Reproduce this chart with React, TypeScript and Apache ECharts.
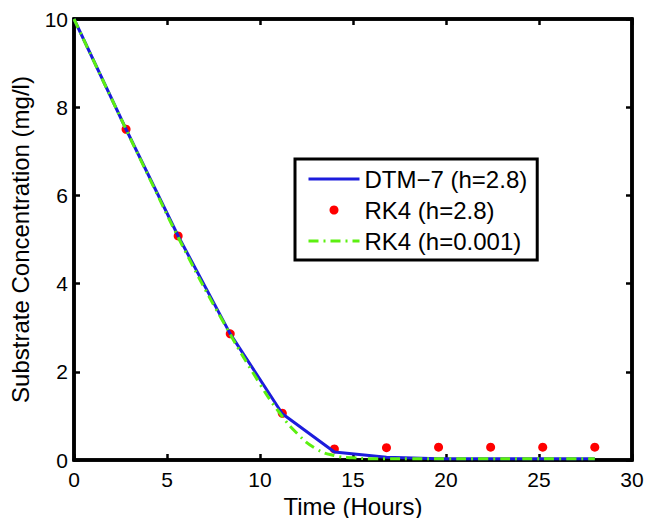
import React, { useEffect, useRef } from "react";
import * as echarts from "echarts";

const timeDTM = [0, 2.8, 5.6, 8.4, 11.2, 14, 16.8, 19.6, 22.4, 25.2, 28];
const dtm7 = [10, 7.5, 5.08, 2.86, 1.05, 0.18, 0.06, 0.03, 0.03, 0.03, 0.03];

const timeRK = [2.8, 5.6, 8.4, 11.2, 14, 16.8, 19.6, 22.4, 25.2, 28];
const rk4Coarse = [7.5, 5.08, 2.86, 1.06, 0.25, 0.28, 0.29, 0.29, 0.29, 0.29];

const timeFine = [0, 2, 4, 6, 8, 10, 11, 12, 13, 14, 15, 16, 17, 18, 20, 22, 24, 26, 28];
const rk4Fine = [10, 8.21, 6.44, 4.72, 3.15, 1.72, 1.1, 0.6, 0.26, 0.1, 0.05, 0.03, 0.03, 0.03, 0.03, 0.03, 0.03, 0.03, 0.03];

const xTicks = [0, 5, 10, 15, 20, 25, 30];
const yTicks = [0, 2, 4, 6, 8, 10];

const FONT = "Liberation Sans, Arial, Helvetica, sans-serif";
const BLUE = "#1c1cdc";
const RED = "#ff0000";
const GREEN = "#5cf010";

const mkLine = () => ({ show: true, onZero: false, lineStyle: { color: "#000", width: 3.5 } });
const mkTick = () => ({ show: true, inside: true, length: 6, lineStyle: { color: "#000", width: 2.5 } });

export default function App() {
  const ref = useRef<HTMLDivElement>(null);
  useEffect(() => {
    document.body.style.margin = "0";
    const chart = echarts.init(ref.current!, null, { renderer: "svg" });
    const names = ["DTM\u22127 (h=2.8)", "RK4 (h=2.8)", "RK4 (h=0.001)"];
    chart.setOption({
      animation: false,
      backgroundColor: "#fff",
      grid: {
        left: 74,
        top: 19,
        right: 15,
        bottom: 58,
        containLabel: false,
        outerBoundsMode: "none",
        show: true,
        borderColor: "#000",
        borderWidth: 3.5,
        backgroundColor: "transparent",
      },
      xAxis: [
        {
          type: "value",
          min: xTicks[0],
          max: xTicks[xTicks.length - 1],
          interval: 5,
          name: "Time (Hours)",
          nameLocation: "middle",
          nameGap: 32,
          nameTextStyle: { fontFamily: FONT, fontSize: 24, lineHeight: 24, color: "#000" },
          axisLine: mkLine(),
          axisTick: mkTick(),
          axisLabel: { fontFamily: FONT, fontSize: 21, color: "#000", margin: 9 },
          splitLine: { show: false },
        },
        {
          type: "value",
          position: "top",
          min: xTicks[0],
          max: xTicks[xTicks.length - 1],
          interval: 5,
          axisLine: mkLine(),
          axisTick: mkTick(),
          axisLabel: { show: false },
          splitLine: { show: false },
        },
      ],
      yAxis: [
        {
          type: "value",
          min: yTicks[0],
          max: yTicks[yTicks.length - 1],
          interval: 2,
          name: "Substrate Concentration (mg/l)",
          nameLocation: "middle",
          nameGap: 42,
          nameTextStyle: { fontFamily: FONT, fontSize: 24, color: "#000" },
          axisLine: mkLine(),
          axisTick: mkTick(),
          axisLabel: { fontFamily: FONT, fontSize: 21, color: "#000", margin: 6 },
          splitLine: { show: false },
        },
        {
          type: "value",
          position: "right",
          min: yTicks[0],
          max: yTicks[yTicks.length - 1],
          interval: 2,
          axisLine: mkLine(),
          axisTick: mkTick(),
          axisLabel: { show: false },
          splitLine: { show: false },
        },
      ],
      legend: {
        orient: "vertical",
        left: 295,
        top: 159,
        backgroundColor: "#fff",
        borderColor: "#000",
        borderWidth: 3,
        padding: [8, 10, 7, 12],
        itemGap: 7,
        itemWidth: 51,
        itemHeight: 9,
        textStyle: { fontFamily: FONT, fontSize: 24, color: "#000" },
        data: [
          { name: names[0], itemStyle: { opacity: 0 }, lineStyle: { width: 3, color: BLUE } },
          { name: names[1] },
          { name: names[2], itemStyle: { opacity: 0 }, lineStyle: { width: 3, color: GREEN, type: [10, 5, 2, 5] } },
        ],
      },
      series: [
        {
          name: names[0],
          type: "line",
          z: 3,
          data: timeDTM.map((t, i) => [t, dtm7[i]]),
          showSymbol: false,
          symbol: "none",
          smooth: false,
          lineStyle: { color: BLUE, width: 3 },
          itemStyle: { color: BLUE },
        },
        {
          name: names[1],
          type: "scatter",
          z: 2,
          data: timeRK.map((t, i) => [t, rk4Coarse[i]]),
          symbol: "circle",
          symbolSize: 9,
          itemStyle: { color: RED, opacity: 1 },
        },
        {
          name: names[2],
          type: "line",
          z: 4,
          data: timeFine.map((t, i) => [t, rk4Fine[i]]),
          showSymbol: false,
          symbol: "none",
          smooth: true,
          lineStyle: { color: GREEN, width: 3, type: [10, 5, 2, 5] },
          itemStyle: { color: GREEN },
        },
      ],
    });
    return () => chart.dispose();
  }, []);
  return <div ref={ref} style={{ width: 647, height: 518 }} />;
}
